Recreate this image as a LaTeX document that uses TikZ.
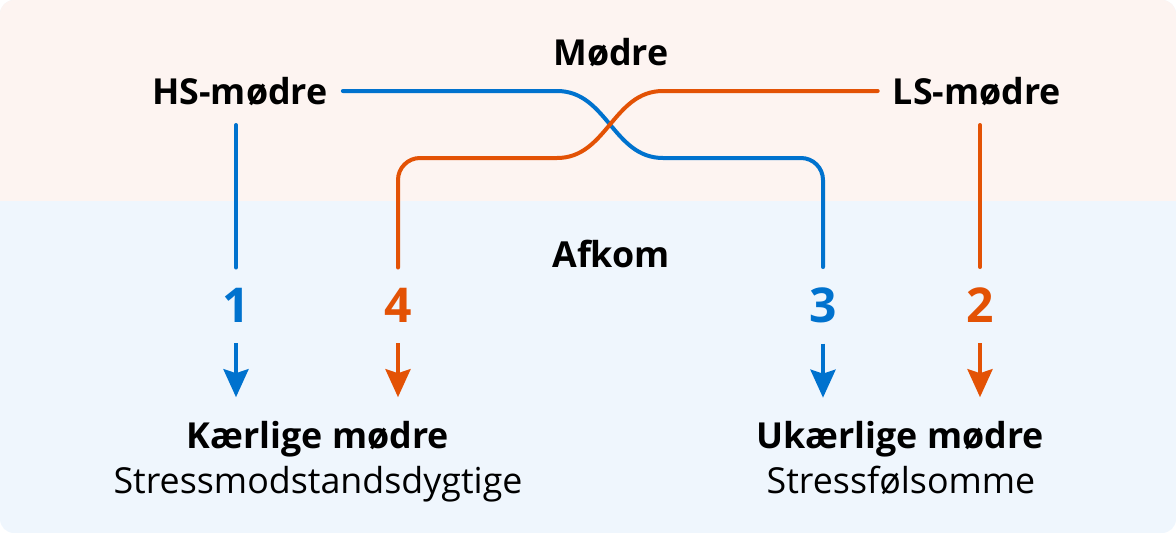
\documentclass[tikz,border=0pt]{standalone}
\usepackage{fontspec}
\setmainfont{Open Sans}
\usetikzlibrary{arrows.meta}
\definecolor{bgtop}{HTML}{FDF4F1}
\definecolor{bgbot}{HTML}{EFF6FD}
\definecolor{cblue}{HTML}{0072CE}
\definecolor{corange}{HTML}{E35205}
\tikzset{
  lbl/.style={inner sep=0pt, anchor=base, font=\fontsize{35.8}{42}\selectfont\bfseries},
  sub/.style={inner sep=0pt, anchor=base, font=\fontsize{35.8}{42}\selectfont},
  num/.style={inner sep=0pt, anchor=base, font=\fontsize{48}{52}\selectfont\bfseries},
  conn/.style={line width=4pt, line cap=round},
  arr/.style={line width=4pt, -{Stealth[length=28pt, width=25pt, inset=4pt]}},
}
\begin{document}
\begin{tikzpicture}[x=1pt,y=-1pt]
\useasboundingbox (0,0) rectangle (1176,533);
\begin{scope}
\clip[rounded corners=14pt] (0,0) rectangle (1176,533);
\fill[bgbot] (0,0) rectangle (1176,533);
\fill[bgtop] (0,0) rectangle (1176,201);
\end{scope}

\node[lbl] (moedre) at (611,65) {Mødre};
\node[lbl] (hs) at (240,104) {HS-mødre};
\node[lbl] (ls) at (977,104) {LS-mødre};
\node[lbl] (afkom) at (611,267) {Afkom};

\node[num, text=cblue] (n1) at (236,322) {1};
\node[num, text=corange] (n4) at (398,322) {4};
\node[num, text=cblue] (n3) at (823,322) {3};
\node[num, text=corange] (n2) at (980,322) {2};

\node[lbl] (k) at (318,448) {Kærlige mødre};
\node[sub] (ks) at (318,493) {Stressmodstandsdygtige};
\node[lbl] (u) at (900,448) {Ukærlige mødre};
\node[sub] (us) at (901,493) {Stressfølsomme};

% crossing lines
\draw[conn, cblue, shorten >=20pt] ([xshift=15pt,yshift=13pt]hs.base east) -- (557,91)
  .. controls (607,91) and (613,158) .. (663,158)
  [rounded corners=22pt] -- (823,158) -- (n3.north);
\draw[conn, corange, shorten >=20pt] ([xshift=-15pt,yshift=13pt]ls.base west) -- (663,91)
  .. controls (613,91) and (607,158) .. (557,158)
  [rounded corners=22pt] -- (398,158) -- (n4.north);

% straight lines
\draw[conn, cblue, shorten <=21pt, shorten >=20pt] (n1.north |- hs.base) -- (n1.north);
\draw[conn, corange, shorten <=21pt, shorten >=20pt] (n2.north |- ls.base) -- (n2.north);

% arrows
\draw[arr, cblue, shorten <=21pt] (n1.south) -- ++(0,75);
\draw[arr, corange, shorten <=21pt] (n4.south) -- ++(0,75);
\draw[arr, cblue, shorten <=21pt] (n3.south) -- ++(0,75);
\draw[arr, corange, shorten <=21pt] (n2.south) -- ++(0,75);
\end{tikzpicture}
\end{document}
